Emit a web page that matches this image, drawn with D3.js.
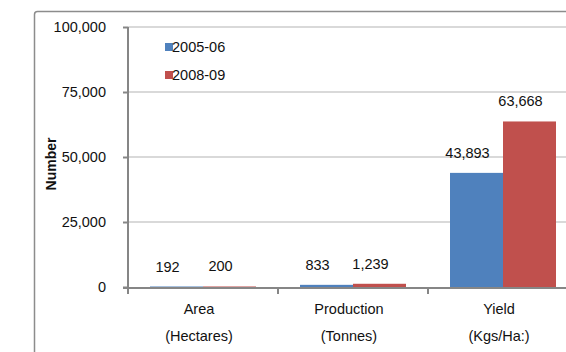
<!DOCTYPE html>
<html>
<head>
<meta charset="utf-8">
<script src="https://cdn.jsdelivr.net/npm/d3@7"></script>
<style>
  html, body { margin: 0; padding: 0; background: #fff; }
  svg { display: block; font-family: "Liberation Sans", Arial, sans-serif; }
</style>
</head>
<body>
<svg id="chart" width="566" height="352"></svg>
<script>
// Categories (two-line labels) and the two seasons being compared
const categories = ["Area|(Hectares)", "Production|(Tonnes)", "Yield|(Kgs/Ha:)"];
const seriesNames = ["2005-06", "2008-09"];
const values2005 = [192, 833, 43893];
const values2008 = [200, 1239, 63668];
const yTicks = [0, 25000, 50000, 75000, 100000];
const colors = ["#4f81bd", "#c0504d"];

const svg = d3.select("#chart");

// Chart-area frame (runs off the right and bottom edges)
svg.append("rect")
  .attr("x", 34.5).attr("y", 11.5)
  .attr("width", 560).attr("height", 400)
  .attr("rx", 3)
  .attr("fill", "#fff")
  .attr("stroke", "#8c8c8c")
  .attr("stroke-width", 1.5);

const plot = { left: 128, right: 578, top: 27, bottom: 287 };

const x = d3.scaleBand()
  .domain(categories)
  .range([plot.left, plot.right])
  .paddingInner(44 / 150)
  .paddingOuter(22 / 150);

const xSeries = d3.scaleBand()
  .domain(seriesNames)
  .range([0, x.bandwidth()])
  .padding(0);

const y = d3.scaleLinear()
  .domain([0, 100000])
  .range([plot.bottom, plot.top]);

// Horizontal gridlines
svg.append("g")
  .selectAll("line")
  .data(yTicks.filter(t => t > 0))
  .join("line")
  .attr("x1", plot.left).attr("x2", plot.right)
  .attr("y1", d => y(d)).attr("y2", d => y(d))
  .attr("stroke", "#d9d9d9")
  .attr("stroke-width", 2);

// Bars
const rows = categories.map((c, i) => ({
  cat: c,
  vals: [
    { s: seriesNames[0], v: values2005[i], c: colors[0] },
    { s: seriesNames[1], v: values2008[i], c: colors[1] }
  ]
}));

const groups = svg.append("g")
  .selectAll("g")
  .data(rows)
  .join("g")
  .attr("transform", d => `translate(${x(d.cat)},0)`);

groups.selectAll("rect")
  .data(d => d.vals)
  .join("rect")
  .attr("x", d => xSeries(d.s))
  .attr("width", xSeries.bandwidth())
  .attr("y", d => y(d.v))
  .attr("height", d => y(0) - y(d.v))
  .attr("fill", d => d.c);

// Value labels above each bar
groups.selectAll("text")
  .data(d => d.vals)
  .join("text")
  .attr("x", d => xSeries(d.s) + xSeries.bandwidth() / 2 - 9)
  .attr("y", d => y(d.v) - 15)
  .attr("text-anchor", "middle")
  .attr("font-size", 14.5)
  .attr("fill", "#111")
  .text(d => d3.format(",")(d.v));

// Y axis
const yAxis = svg.append("g")
  .attr("transform", `translate(${plot.left},0)`)
  .call(d3.axisLeft(y).tickValues(yTicks).tickFormat(d3.format(",")).tickSize(5).tickPadding(17));
yAxis.select(".domain").attr("stroke", "#868686").attr("stroke-width", 2)
  .attr("d", `M0,${plot.top}V${plot.bottom + 1}`);
yAxis.selectAll(".tick line").attr("stroke", "#868686").attr("stroke-width", 2);
yAxis.selectAll(".tick text")
  .attr("font-size", 14.5)
  .attr("fill", "#111")
  .attr("font-family", "Liberation Sans, Arial, sans-serif");

// X axis
const xAxis = svg.append("g")
  .attr("transform", `translate(0,${plot.bottom + 1})`);
xAxis.append("line")
  .attr("x1", plot.left - 5).attr("x2", plot.right)
  .attr("stroke", "#868686").attr("stroke-width", 2);
const step = x.step();
xAxis.selectAll("line.tick")
  .data(d3.range(categories.length + 1))
  .join("line")
  .attr("class", "tick")
  .attr("x1", i => plot.left + i * step).attr("x2", i => plot.left + i * step)
  .attr("y1", 0).attr("y2", 6)
  .attr("stroke", "#868686").attr("stroke-width", 2);

const catLabels = svg.append("g")
  .selectAll("text")
  .data(categories)
  .join("text")
  .attr("text-anchor", "middle")
  .attr("font-size", 14.5)
  .attr("fill", "#111");
catLabels.each(function (d) {
  const parts = d.split("|");
  const cx = x(d) + x.bandwidth() / 2 - 4;
  d3.select(this).selectAll("tspan")
    .data(parts)
    .join("tspan")
    .attr("x", cx)
    .attr("y", (p, i) => 314 + i * 27)
    .text(p => p);
});

// Y axis title
svg.append("text")
  .attr("transform", "translate(56,164) rotate(-90)")
  .attr("text-anchor", "middle")
  .attr("font-size", 14)
  .attr("font-weight", "bold")
  .attr("fill", "#111")
  .text("Number");

// Legend
const legend = svg.append("g")
  .selectAll("g")
  .data(seriesNames)
  .join("g")
  .attr("transform", (d, i) => `translate(165,${43 + i * 28})`);
legend.append("rect")
  .attr("width", 8).attr("height", 8)
  .attr("fill", (d, i) => colors[i]);
legend.append("text")
  .attr("x", 7).attr("y", 9)
  .attr("font-size", 14.5)
  .attr("fill", "#111")
  .text(d => d);
</script>
</body>
</html>
